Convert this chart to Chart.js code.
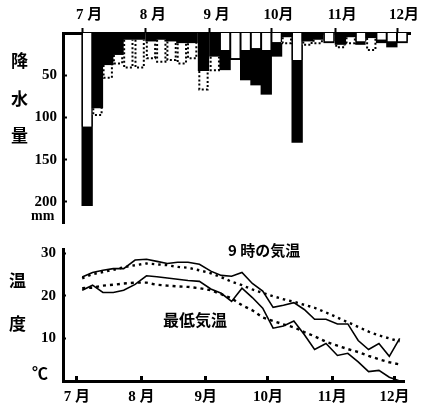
<!DOCTYPE html>
<html><head><meta charset="utf-8">
<script src="https://cdn.jsdelivr.net/npm/chart.js@4.4.1/dist/chart.umd.min.js"></script>
<style>
html,body{margin:0;padding:0;background:#fff;}
#wrap{position:relative;width:422px;height:411px;overflow:hidden;background:#fff;}
canvas{position:absolute;left:0;}
.lbl{position:absolute;font-family:"Noto Sans CJK JP",sans-serif;font-weight:700;color:#000;line-height:1;white-space:nowrap;}
.num{font-family:"Liberation Serif",serif;}
</style></head><body>
<div id="wrap">
  <canvas id="rain" width="422" height="228" style="top:0"></canvas>
  <canvas id="temp" width="422" height="183" style="top:228px"></canvas>
  <div class="lbl" style="left:11px;top:51px;font-size:17px">降</div>
  <div class="lbl" style="left:11px;top:89px;font-size:17px">水</div>
  <div class="lbl" style="left:11px;top:126px;font-size:17px">量</div>
  <div class="lbl num" style="left:31px;top:209px;font-size:14px">mm</div>
  <div class="lbl" style="left:9px;top:271px;font-size:17px">温</div>
  <div class="lbl" style="left:9px;top:314px;font-size:17px">度</div>
  <div class="lbl" style="left:32px;top:364px;font-size:16px">℃</div>
  <div class="lbl" style="left:228px;top:242px;font-size:15px">9 時の気温</div>
  <div class="lbl" style="left:163px;top:311px;font-size:16px">最低気温</div>
</div>
<script>
// ---- data ----
const monthStartDay = [0, 31, 62, 92, 123, 153];          // days since Jul 1
const monthLabelsTop = ['7 月', '8 月', '9 月', '10月', '11月', '12月'];
const monthLabelsBottom = ['7 月', '8 月', '9月', '10月', '11月', '12月'];
const pentadMidDay = [2.5, 7.5, 12.5, 17.5, 22.5, 28, 33.5, 38.5, 43.5, 48.5, 53.5, 59,
  64.5, 69.5, 74.5, 79.5, 84.5, 89.5, 94.5, 99.5, 104.5, 109.5, 114.5, 120,
  125.5, 130.5, 135.5, 140.5, 145.5, 150.5, 155.5];
const precipActual = [205, 89, 38, 26, 8, 8, 10, 8, 10, 12, 12, 45,
  28, 44, 32, 56, 62, 73, 28, 5, 130, 10, 8, 12,
  14, 5, 14, 6, 12, 17, 12];
const precipNormal = [111, 97, 53, 36, 41, 41, 30, 34, 32, 36, 30, 67,
  44, 20, 30, 20, 18, 20, 11, 12, 32, 14, 12, 10,
  17, 12, 10, 20, 8, 10, 10];
const precipTicks = [50, 100, 150, 200];
const t9Actual = [24.4, 25.5, 26.0, 26.4, 26.4, 28.4, 28.6, 28.1, 27.6, 27.9, 27.9, 27.4,
  25.8, 24.8, 24.6, 25.5, 22.9, 21.1, 17.3, 17.8, 18.4, 16.8, 14.5, 14.5,
  13.4, 13.4, 9.5, 7.4, 8.8, 5.8, 10.0];
const t9Normal = [24.1, 25.1, 25.6, 26.1, 26.7, 27.2, 27.6, 27.4, 27.2, 26.8, 26.6, 26.0,
  25.3, 24.4, 23.3, 22.5, 21.5, 20.7, 19.9, 19.2, 18.6, 17.9, 17.2, 16.1,
  14.9, 13.8, 12.7, 11.6, 10.7, 10.0, 9.3];
const tMinActual = [21.3, 22.5, 20.8, 20.8, 21.3, 22.7, 24.7, 24.5, 24.2, 23.9, 23.6, 23.4,
  21.6, 20.6, 18.7, 21.8, 19.6, 17.1, 12.4, 12.9, 14.1, 10.9, 7.4, 8.8,
  6.0, 6.5, 4.5, 2.2, 2.5, 0.9, 0];
const tMinNormal = [21.8, 21.9, 22.4, 22.6, 22.9, 23.1, 23.1, 22.6, 22.4, 22.2, 22.1, 21.8,
  21.3, 20.4, 19.4, 17.8, 16.6, 14.9, 14.1, 13.3, 12.6, 11.5, 10.5, 9.2,
  8.3, 7.5, 6.8, 5.9, 5.1, 4.4, 3.9];
const tempTicks = [10, 20, 30];

// ---- helpers ----
const FONT = '"Liberation Serif","Noto Sans CJK JP",serif';
const normalOnTop = i => precipNormal[i] < precipActual[i];
const xy = arr => arr.map((v, i) => ({ x: pentadMidDay[i], y: v }));
const fixY = s => { s.width = 63; s.paddingTop = 0; s.paddingBottom = 0; };

const dottedNormals = {
  id: 'dottedNormals',
  afterDatasetsDraw(chart) {
    const ctx = chart.ctx, ys = chart.scales.y, meta = chart.getDatasetMeta(1);
    ctx.save();
    ctx.strokeStyle = '#000';
    ctx.lineWidth = 2;
    ctx.setLineDash([2, 2.2]);
    meta.data.forEach((el, i) => {
      const a = precipActual[i], n = precipNormal[i];
      if (n <= a) return;
      const half = el.width / 2, l = el.x - half + 1.5, r = el.x + half - 1.5;
      const ya = ys.getPixelForValue(a), yn = ys.getPixelForValue(n);
      ctx.beginPath();
      ctx.moveTo(l, ya); ctx.lineTo(l, yn); ctx.lineTo(r, yn); ctx.lineTo(r, ya);
      ctx.stroke();
    });
    ctx.restore();
  }
};

new Chart(document.getElementById('rain'), {
  type: 'bar',
  data: {
    datasets: [
      {
        order: 0, grouped: false,
        data: pentadMidDay.map((d, i) => ({ x: d, y: Math.min(precipActual[i], precipNormal[i]) })),
        backgroundColor: c => normalOnTop(c.dataIndex) ? '#fff' : '#000',
        borderColor: '#000',
        borderWidth: c => normalOnTop(c.dataIndex) ? { left: 1.5, right: 1.5, top: 0, bottom: 0 } : 0,
        borderSkipped: false,
        barPercentage: 1.1, categoryPercentage: 1
      },
      {
        order: 1, grouped: false,
        data: pentadMidDay.map((d, i) => ({ x: d, y: Math.max(precipActual[i], precipNormal[i]) })),
        backgroundColor: c => normalOnTop(c.dataIndex) ? '#000' : '#fff',
        borderWidth: 0,
        barPercentage: 1.1, categoryPercentage: 1
      }
    ]
  },
  options: {
    responsive: false, animation: false, devicePixelRatio: 1,
    layout: { padding: { left: 0, right: 12, top: 0, bottom: 5 } },
    plugins: { legend: { display: false }, tooltip: { enabled: false } },
    scales: {
      x: {
        type: 'linear', position: 'top', min: -9.23, max: 159.31, offset: false, z: 1,
        grid: { drawOnChartArea: false, drawTicks: true, tickLength: 5, tickWidth: 2, tickColor: '#000', offset: false },
        border: { display: true, width: 3, color: '#000' },
        ticks: {
          autoSkip: false, maxRotation: 0, padding: 4, labelOffset: 7, color: '#000',
          font: { family: FONT, size: 15, weight: 'bold' },
          callback: (v, i) => monthLabelsTop[i]
        },
        afterBuildTicks: s => { s.ticks = monthStartDay.map(v => ({ value: v })); },
        afterFit: s => { s.height = 33; }
      },
      y: {
        type: 'linear', position: 'left', reverse: true, min: 0, max: 225, z: 1,
        grid: { drawOnChartArea: false, tickLength: -4, tickWidth: 2, tickColor: '#000' },
        border: { display: true, width: 3, color: '#000' },
        ticks: { padding: 10, color: '#000', font: { family: FONT, size: 15, weight: 'bold' }, callback: v => String(v) },
        afterBuildTicks: s => { s.ticks = precipTicks.map(v => ({ value: v })); },
        afterFit: fixY
      }
    }
  },
  plugins: [dottedNormals]
});

const lineBase = { borderColor: '#000', pointRadius: 0, tension: 0, fill: false };
new Chart(document.getElementById('temp'), {
  type: 'line',
  data: {
    datasets: [
      Object.assign({ data: xy(t9Actual), borderWidth: 1.6 }, lineBase),
      Object.assign({ data: xy(t9Normal), borderWidth: 2.4, borderDash: [2.5, 4] }, lineBase),
      Object.assign({ data: xy(tMinActual), borderWidth: 1.6 }, lineBase),
      Object.assign({ data: xy(tMinNormal), borderWidth: 2.4, borderDash: [3, 4] }, lineBase)
    ]
  },
  options: {
    responsive: false, animation: false, devicePixelRatio: 1,
    layout: { padding: { left: 0, right: 17, top: 21, bottom: 0 } },
    plugins: { legend: { display: false }, tooltip: { enabled: false } },
    scales: {
      x: {
        type: 'linear', position: 'bottom', min: -6.74, max: 157.81, offset: false, z: 1,
        grid: { drawOnChartArea: false, tickLength: -5, tickWidth: 3, tickColor: '#000' },
        border: { display: true, width: 3, color: '#000' },
        ticks: {
          autoSkip: false, maxRotation: 0, padding: 12, color: '#000',
          font: { family: FONT, size: 15, weight: 'bold' },
          callback: (v, i) => monthLabelsBottom[i]
        },
        afterBuildTicks: s => { s.ticks = monthStartDay.map(v => ({ value: v })); },
        afterFit: s => { s.height = 30; }
      },
      y: {
        type: 'linear', position: 'left', min: 0, max: 31, z: 1,
        grid: { drawOnChartArea: false, tickLength: -3, tickWidth: 2, tickColor: '#000' },
        border: { display: true, width: 3, color: '#000' },
        ticks: { padding: 10, color: '#000', font: { family: FONT, size: 15, weight: 'bold' }, callback: v => String(v) },
        afterBuildTicks: s => { s.ticks = tempTicks.map(v => ({ value: v })); },
        afterFit: fixY
      }
    }
  }
});
</script>
</body></html>
